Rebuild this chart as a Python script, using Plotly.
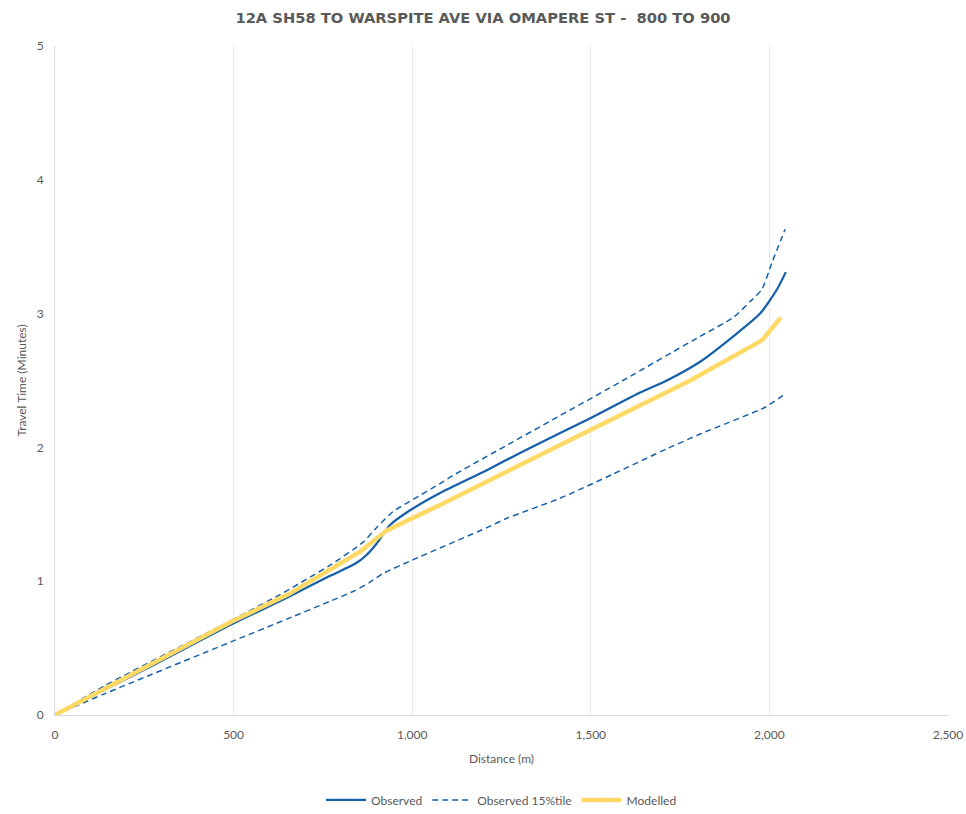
import plotly.graph_objects as go

# Observed (median) travel time
obs_dist = [0, 140, 280, 496, 652, 770, 840, 870, 900, 938, 994, 1078, 1209, 1310, 1500, 1638, 1713, 1806, 1899, 1974, 2021, 2046]
obs_time = [0, 0.19, 0.38, 0.68, 0.88, 1.04, 1.13, 1.19, 1.28, 1.42, 1.53, 1.66, 1.83, 1.97, 2.22, 2.41, 2.50, 2.64, 2.83, 3.00, 3.18, 3.31]

# Observed 15%tile (upper dashed)
p_hi_dist = [0, 140, 496, 630, 770, 862, 900, 946, 1002, 1078, 1114, 1590, 1806, 1899, 1946, 1979, 2007, 2044]
p_hi_time = [0, 0.22, 0.71, 0.90, 1.12, 1.29, 1.40, 1.52, 1.61, 1.73, 1.79, 2.50, 2.83, 2.97, 3.09, 3.18, 3.38, 3.63]

# lower dashed
p_lo_dist = [0, 140, 496, 652, 770, 840, 880, 920, 1002, 1209, 1265, 1414, 1562, 1713, 1806, 1988, 2044]
p_lo_time = [0, 0.16, 0.55, 0.72, 0.85, 0.93, 0.99, 1.06, 1.16, 1.40, 1.47, 1.62, 1.80, 1.99, 2.10, 2.30, 2.40]

# Modelled travel time
mod_dist = [0, 496, 652, 854, 929, 1078, 1310, 1778, 1979, 2032]
mod_time = [0, 0.70, 0.90, 1.22, 1.38, 1.57, 1.88, 2.50, 2.80, 2.97]

blue = "#1560A8"
yellow = "#FFD966"
grey = "#595959"

fig = go.Figure()
fig.add_trace(go.Scatter(x=obs_dist, y=obs_time, mode="lines", name="Observed",
                         line=dict(color=blue, width=2.25, shape="spline", smoothing=0.6)))
fig.add_trace(go.Scatter(x=p_hi_dist, y=p_hi_time, mode="lines", name="Observed 15%tile",
                         line=dict(color=blue, width=1.5, dash="6px,4px", shape="spline", smoothing=0.5),
                         legendgroup="p"))
fig.add_trace(go.Scatter(x=p_lo_dist, y=p_lo_time, mode="lines", name="Observed 15%tile",
                         showlegend=False, legendgroup="p",
                         line=dict(color=blue, width=1.5, dash="6px,4px", shape="spline", smoothing=0.5)))
fig.add_trace(go.Scatter(x=mod_dist, y=mod_time, mode="lines", name="Modelled",
                         line=dict(color=yellow, width=4.5)))

fig.update_layout(
    width=966, height=814,
    paper_bgcolor="white", plot_bgcolor="white",
    margin=dict(l=55, r=18, t=46, b=99, autoexpand=False),
    title=dict(text="<b>12A SH58 TO WARSPITE AVE VIA OMAPERE ST -  800 TO 900</b>",
               x=0.5, xanchor="center", y=0.985, yanchor="top",
               font=dict(family="DejaVu Sans, sans-serif", size=14.7, color=grey)),
    font=dict(family="Lato, Open Sans, sans-serif", size=12, color=grey),
    legend=dict(orientation="h", x=0.5, xanchor="center", y=-0.127, yanchor="middle",
                font=dict(size=12, color=grey), itemwidth=40, traceorder="normal"),
    showlegend=True,
)
fig.update_xaxes(range=[0, 2500], dtick=500, tickformat=",", showgrid=True, gridcolor="#EBEBEB",
                 gridwidth=1, zeroline=False, showline=True, linecolor="#D9D9D9", linewidth=1,
                 ticks="", automargin=False, ticklabelstandoff=9, ticklabeloverflow="allow",
                 title=dict(text="Distance (m)", font=dict(size=12, color=grey), standoff=13),
                 tickfont=dict(size=12, color=grey))
fig.update_yaxes(range=[0, 5], dtick=1, showgrid=False, zeroline=False, showline=True,
                 linecolor="#D9D9D9", linewidth=1, ticks="", ticklabelstandoff=8, automargin=False,
                 title=dict(text="Travel Time (Minutes)", font=dict(size=12, color=grey), standoff=7),
                 tickfont=dict(size=12, color=grey))

fig.write_html("out.html", config={"displayModeBar": False},
               post_script="document.body.style.margin='0';document.body.style.overflow='hidden';")
